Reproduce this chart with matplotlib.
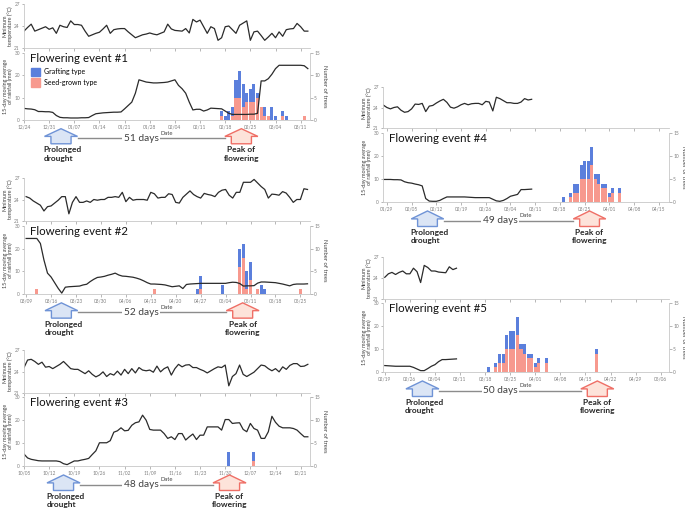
import numpy as np
import matplotlib
matplotlib.use('Agg')
import matplotlib.pyplot as plt
from matplotlib.patches import Patch, Polygon
from matplotlib.transforms import blended_transform_factory

plt.rcParams['font.family'] = ['Lato', 'DejaVu Sans']

BLUE = '#5b7fdc'
PINK = '#f7998e'
LINE = '#2b2b2b'
SPINE = '#c8c8c8'
TICK = '#808080'
LABEL = '#404040'

# ---------------- event 1 ----------------
e1_ticks = ['12/24', '12/31', '01/07', '01/14', '01/21', '01/28',
            '02/04', '02/11', '02/18', '02/25', '03/04', '03/11']
e1_temp = [23.3, 23.8, 24.25, 23.3, 23.5, 23.7, 23.9, 23.55, 23.75, 23.0,
           24.1, 23.9, 23.8, 24.7, 24.2, 24.2, 24.1, 23.3, 22.6, 22.8,
           23.0, 23.15, 23.6, 24.1, 23.0, 23.5, 23.6, 23.65, 23.65, 23.2,
           22.8, 22.4, 22.6, 22.8, 22.9, 23.05, 22.9, 22.8, 23.0, 23.2,
           24.25, 23.6, 23.4, 23.35, 23.3, 23.65, 23.05, 24.9, 24.55, 24.8,
           23.9, 23.0, 23.9, 23.65, 22.05, 22.4, 23.9, 24.0, 23.5, 23.0,
           24.1, 24.4, 24.7, 22.05, 23.2, 23.3, 22.7, 22.05, 22.5, 23.0,
           22.4, 23.2, 22.6, 23.5, 23.6, 23.65, 24.35, 23.9, 23.3, 23.3]
e1_rain = [5.2, 5.0, 4.9, 4.6, 3.8, 3.8, 3.7, 3.7, 3.4, 2.0,
           1.2, 1.0, 1.0, 0.9, 0.9, 0.9, 1.0, 1.0, 1.1, 2.0,
           2.8, 3.0, 3.2, 3.3, 3.4, 3.5, 3.5, 3.6, 5.0, 6.5,
           8.0, 12.0, 18.0, 17.5, 17.0, 16.8, 16.6, 16.6, 16.7, 16.8,
           17.0, 17.5, 18.0, 15.5, 14.0, 12.0, 8.0, 4.5, 4.8, 4.8,
           4.0, 4.5, 5.3, 5.2, 5.1, 5.0, 4.0, 3.0, 2.5, 2.5,
           2.5, 2.5, 2.5, 2.6, 2.6, 3.0, 17.5, 17.5, 18.5, 20.5,
           23.0, 24.5, 24.5, 24.5, 24.5, 24.5, 24.5, 24.5, 24.3, 23.0]
e1_bar_days = [55, 56, 57, 58, 59, 60, 61, 62, 63, 64, 65, 66, 67, 68, 69, 70, 72, 73, 78]
e1_seed = [1, 0, 0, 1, 5, 5, 3, 4, 4, 4, 5, 3, 1, 1, 0, 0, 1, 0, 1]
e1_graft = [1, 1, 2, 2, 4, 6, 5, 2, 3, 4, 1, 0, 2, 0, 3, 1, 1, 1, 0]

# ---------------- event 2 ----------------
e2_ticks = ['03/09', '03/16', '03/23', '03/30', '04/06', '04/13',
            '04/20', '04/27', '05/04', '05/11', '05/18', '05/25']
e2_temp = [24.4, 24.2, 23.8, 23.5, 23.2, 22.4, 23.0, 23.1, 23.5, 23.9,
           24.4, 24.4, 22.0, 23.6, 24.4, 23.6, 23.6, 23.8, 23.6, 24.0,
           23.9, 24.0, 24.0, 24.3, 24.3, 24.4, 24.3, 25.0, 23.7, 24.3,
           23.9, 24.0, 24.0, 24.0, 23.9, 25.0, 24.8, 24.2, 24.3, 24.3,
           24.8, 24.7, 23.6, 23.5, 24.3, 24.75, 25.2, 24.7, 24.4, 24.2,
           24.85, 24.7, 24.6, 24.4, 25.0, 25.3, 25.4, 24.6, 24.2, 25.0,
           25.0, 26.4, 26.4, 26.4, 26.8, 26.3, 25.8, 25.4, 24.2, 24.75,
           24.7, 24.6, 25.1, 24.9, 24.3, 23.6, 24.0, 24.0, 25.5, 25.4]
e2_rain = [24.5, 24.5, 24.5, 24.5, 22.3, 15.0, 9.2, 7.5, 5.0, 2.5,
           0.4, 3.0, 3.2, 3.3, 3.4, 3.5, 4.0, 4.3, 5.5, 6.5,
           7.3, 7.5, 7.8, 8.3, 8.7, 9.2, 8.4, 7.9, 7.8, 7.6,
           7.4, 7.0, 6.5, 5.8, 5.0, 4.4, 4.4, 4.3, 4.2, 4.0,
           3.6, 3.2, 3.4, 3.6, 2.4, 4.2, 4.4, 4.5, 4.6, 4.7,
           4.7, 4.7, 4.7, 4.7, 4.7, 4.7, 4.7, 5.0, 5.2, 5.1,
           4.6, 3.5, 3.6, 3.6, 3.7, 4.8, 5.3, 5.3, 5.2, 5.1,
           5.0, 4.7, 4.4, 4.0, 3.6, 4.2, 4.4, 4.4, 4.4, 4.5]
e2_bar_days = [3, 36, 48, 49, 55, 60, 61, 62, 63, 65, 66, 67, 77]
e2_seed = [1, 1, 0, 1, 0, 6, 8, 1, 3, 1, 0, 0, 1]
e2_graft = [0, 0, 1, 3, 2, 4, 3, 4, 4, 0, 2, 1, 0]

# ---------------- event 3 ----------------
e3_ticks = ['10/05', '10/12', '10/19', '10/26', '11/02', '11/09',
            '11/16', '11/23', '11/30', '12/07', '12/14', '12/21']
e3_temp = [24.55, 25.6, 25.7, 25.4, 25.0, 25.3, 24.6, 24.7, 24.4, 24.7,
           25.0, 25.4, 24.9, 24.4, 24.3, 24.3, 24.0, 23.7, 24.1, 23.6,
           23.25, 23.5, 23.95, 23.3, 23.7, 23.5, 24.05, 23.5, 24.3, 23.7,
           24.4, 23.8, 24.55, 24.2, 24.1, 24.2, 23.9, 24.75, 23.95, 24.4,
           24.65, 23.5, 24.4, 25.0, 24.65, 24.9, 24.95, 24.55, 24.55, 24.3,
           24.1, 23.8, 24.1, 24.4, 24.65, 24.55, 24.9, 22.0, 23.3, 23.7,
           24.9, 23.6, 23.3, 23.6, 23.9, 24.4, 24.9, 24.8, 24.4, 24.1,
           24.4, 23.95, 24.65, 24.3, 24.85, 25.1, 25.1, 24.7, 24.75, 25.0]
e3_rain = [5.2, 3.5, 2.9, 2.6, 2.3, 2.2, 2.2, 2.2, 2.2, 2.2,
           1.9, 1.0, 0.6, 1.4, 2.2, 2.2, 2.6, 2.9, 3.3, 5.0,
           6.6, 10.1, 10.1, 10.1, 11.0, 14.7, 15.3, 16.6, 15.3, 15.5,
           17.7, 18.8, 19.2, 22.1, 19.9, 15.9, 15.6, 15.6, 15.6, 14.1,
           12.0, 12.7, 11.5, 14.1, 14.1, 11.3, 12.7, 13.9, 11.5, 13.4,
           13.4, 17.0, 17.0, 17.0, 17.0, 15.6, 20.2, 20.2, 18.5, 18.7,
           18.8, 15.9, 14.9, 18.5, 16.3, 15.6, 12.0, 12.0, 14.9, 21.6,
           19.0, 17.3, 16.6, 16.6, 16.6, 16.3, 15.6, 14.1, 12.7, 12.7]
e3_bar_days = [57, 64]
e3_seed = [0, 1]
e3_graft = [3, 2]

# ---------------- event 4 ----------------
e4_ticks = ['01/29', '02/05', '02/12', '02/19', '02/26', '03/04',
            '03/11', '03/18', '03/25', '04/01', '04/08', '04/15']
e4_temp = [24.35, 24.0, 23.8, 24.0, 24.1, 23.6, 23.3, 23.4, 23.8, 24.5,
           24.45, 24.6, 23.4, 24.2, 24.3, 24.65, 24.95, 25.2, 24.75, 24.05,
           23.9, 24.1, 24.4, 24.6, 24.4, 24.55, 24.6, 24.6, 24.4, 24.9,
           24.8, 23.5, 25.5, 25.3, 25.0, 24.7, 24.7, 24.6, 24.6, 24.8,
           25.3, 25.1, 25.2]
e4_rain = [9.8, 9.8, 9.8, 9.7, 9.7, 9.6, 8.8, 8.4, 8.2, 7.8,
           7.5, 7.0, 1.5, 0.4, 0.3, 0.3, 0.7, 1.5, 2.2, 2.2,
           2.2, 2.2, 2.2, 2.2, 2.1, 2.0, 1.9, 1.9, 1.9, 1.9,
           1.9, 1.2, 0.5, 0.3, 0.7, 1.5, 2.5, 2.9, 3.3, 5.4,
           5.4, 5.5, 5.6]
e4_bar_days = [50, 52, 53, 54, 55, 56, 57, 58, 59, 60, 61, 62, 63, 64, 66]
e4_seed = [0, 1, 2, 2, 5, 5, 5, 8, 5, 4, 3, 3, 1, 2, 2]
e4_graft = [1, 1, 2, 2, 3, 4, 4, 4, 1, 2, 1, 1, 1, 1, 1]

# ---------------- event 5 ----------------
e5_ticks = ['02/19', '02/26', '03/04', '03/11', '03/18', '03/25',
            '04/01', '04/08', '04/15', '04/22', '04/29', '05/06']
e5_temp = [24.1, 24.6, 24.8, 24.5, 24.8, 25.0, 24.6, 24.6, 25.4, 24.9,
           23.35, 25.8, 25.5, 25.0, 25.0, 24.85, 24.8, 24.75, 25.6, 25.2, 25.4]
e5_rain = [2.8, 2.7, 2.6, 2.5, 2.5, 2.5, 2.5, 2.5, 2.0, 1.3,
           0.6, 0.6, 1.5, 2.5, 3.2, 4.5, 5.4, 5.4, 5.5, 5.6, 5.7]
e5_bar_days = [29, 31, 32, 33, 34, 35, 36, 37, 38, 39, 40, 41, 42, 43, 45, 59]
e5_seed = [0, 1, 2, 2, 5, 5, 5, 8, 5, 4, 3, 3, 1, 2, 2, 4]
e5_graft = [1, 1, 2, 2, 3, 4, 4, 4, 1, 2, 1, 1, 1, 1, 1, 1]

event_names = ['Flowering event #1', 'Flowering event #2', 'Flowering event #3',
               'Flowering event #4', 'Flowering event #5']
drought_day = [10.3, 9.9, 11.0, 11.5, 10.5]
peak_day = [60.5, 60.8, 57.2, 57.4, 59.3]
gap_labels = ['51 days', '52 days', '48 days', '49 days', '50 days']
series_start = [0, 0, 0, -1, 0]
x_range = [(0, 79.6), (-0.6, 79.7), (0, 79.6), (-1.1, 79.9), (-0.5, 79.3)]

events = [
    (e1_ticks, e1_temp, e1_rain, e1_bar_days, e1_seed, e1_graft),
    (e2_ticks, e2_temp, e2_rain, e2_bar_days, e2_seed, e2_graft),
    (e3_ticks, e3_temp, e3_rain, e3_bar_days, e3_seed, e3_graft),
    (e4_ticks, e4_temp, e4_rain, e4_bar_days, e4_seed, e4_graft),
    (e5_ticks, e5_temp, e5_rain, e5_bar_days, e5_seed, e5_graft),
]

# panel layout in pixels: (left, temp top, temp bottom, rain top, rain bottom)
W, H = 685, 512
layout = [(24, 4, 48, 53, 120),
          (24, 178, 221, 226, 294),
          (24, 350, 393, 397, 466),
          (383, 87, 128, 133, 202),
          (383, 257, 299, 303, 372)]
PW = 286

fig = plt.figure(figsize=(W / 100, H / 100), dpi=100)


def style_ticks(ax):
    ax.tick_params(labelsize=3.4, colors=TICK, length=1.8, width=0.4, pad=1.2)
    for s in ax.spines.values():
        s.set_color(SPINE)
        s.set_linewidth(0.6)


def up_arrow(ax, x, edge, face):
    tr = blended_transform_factory(ax.transData, ax.transAxes)
    hw, sw = 4.6, 2.8
    top, mid, bot = -0.13, -0.245, -0.355
    pts = [(x, top), (x + hw, mid), (x + sw, mid), (x + sw, bot),
           (x - sw, bot), (x - sw, mid), (x - hw, mid)]
    ax.add_patch(Polygon(pts, closed=True, transform=tr, clip_on=False,
                         fc=face, ec=edge, lw=1.0, zorder=5))


for i, (ticks, temp, rain, bdays, seed, graft) in enumerate(events):
    left, tt, tb, rt, rb = layout[i]
    x0 = left / W
    w = PW / W
    tick_pos = np.arange(len(ticks)) * 7
    s0 = series_start[i]

    # minimum temperature panel
    axt = fig.add_axes([x0, 1 - tb / H, w, (tb - tt) / H])
    axt.plot(s0 + np.arange(len(temp)), temp, color=LINE, lw=0.9)
    axt.set_xlim(*x_range[i])
    axt.set_ylim(21, 27)
    axt.set_yticks([21, 24, 27])
    axt.set_xticks(tick_pos)
    axt.set_xticklabels([])
    axt.spines['top'].set_visible(False)
    axt.spines['right'].set_visible(False)
    style_ticks(axt)
    axt.set_ylabel('Minimum\ntemperature (°C)', fontsize=3.9, color=LABEL,
                   labelpad=0.8, linespacing=1.05)

    # rainfall + flowering panel
    ax = fig.add_axes([x0, 1 - rb / H, w, (rb - rt) / H])
    ax2 = ax.twinx()
    ax2.bar(bdays, seed, width=0.85, color=PINK, lw=0, label='Seed-grown type')
    ax2.bar(bdays, graft, bottom=seed, width=0.85, color=BLUE, lw=0, label='Grafting type')
    ax.plot(s0 + np.arange(len(rain)), rain, color=LINE, lw=0.9)
    ax.set_zorder(ax2.get_zorder() + 1)
    ax.patch.set_visible(False)
    ax.set_xlim(*x_range[i])
    ax.set_ylim(0, 30)
    ax.set_yticks([0, 10, 20, 30])
    ax2.set_ylim(0, 15)
    ax2.set_yticks([0, 5, 10, 15])
    ax.set_xticks(tick_pos)
    ax.set_xticklabels(ticks)
    ax.spines['top'].set_visible(False)
    ax.spines['right'].set_visible(False)
    for s in ['top', 'left', 'bottom']:
        ax2.spines[s].set_visible(False)
    style_ticks(ax)
    style_ticks(ax2)
    ax.set_xlabel('Date', fontsize=4.2, color=LABEL, labelpad=1)
    ax.set_ylabel('15-day moving average\nof rainfall (mm)', fontsize=3.9, color=LABEL,
                  labelpad=0.8, linespacing=1.05)
    ax2.set_ylabel('Number of trees', fontsize=4.2, color=LABEL, rotation=270, labelpad=5)
    ax.text(0.02, 1.0, event_names[i], transform=ax.transAxes, ha='left', va='top',
            fontsize=8.3, color='#111111')

    if i == 0:
        handles = [Patch(color=BLUE, label='Grafting type'),
                   Patch(color=PINK, label='Seed-grown type')]
        ax.legend(handles=handles, loc='upper left', bbox_to_anchor=(0.015, 0.82),
                  frameon=False, fontsize=5, handlelength=1.3, handleheight=1.5,
                  handletextpad=0.5, labelspacing=0.25, borderaxespad=0)

    # drought -> flowering annotation
    tr = blended_transform_factory(ax.transData, ax.transAxes)
    d, p = drought_day[i], peak_day[i]
    ax.plot([d + 4.6, p - 4.6], [-0.27, -0.27], transform=tr, clip_on=False,
            color='#8c8c8c', lw=1.0, zorder=4)
    ax.text(0.41, -0.27, gap_labels[i], transform=ax.transAxes, ha='center', va='center',
            fontsize=7.3, color=LABEL, zorder=6,
            bbox=dict(fc='white', ec='none', pad=1.0))
    up_arrow(ax, d, '#6f93d6', '#dbe5f5')
    up_arrow(ax, p, '#ef6f66', '#fde3da')
    ax.text(d - 4.8, -0.39, 'Prolonged\ndrought', transform=tr, ha='left', va='top',
            fontsize=6, fontweight='bold', color='#262626', linespacing=1.25)
    ax.text(p, -0.39, 'Peak of\nflowering', transform=tr, ha='center', va='top',
            fontsize=6, fontweight='bold', color='#262626', linespacing=1.25)

fig.savefig('out.png', dpi=100)
